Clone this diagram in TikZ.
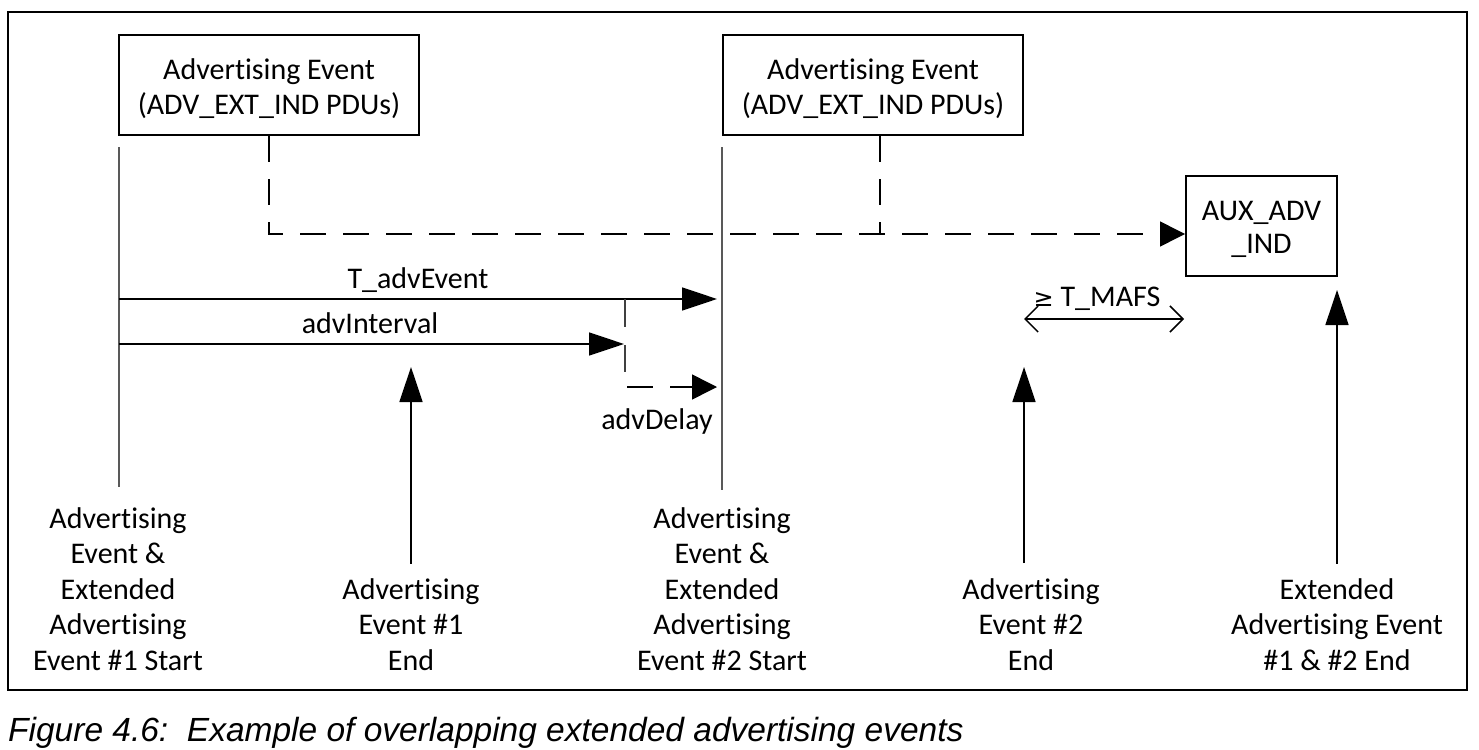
\documentclass[tikz,border=0pt]{standalone}
\usepackage{fontspec}
\usepackage{graphicx}
\setmainfont{Carlito}[RawFeature=-liga]
\newfontfamily\capfont{Liberation Sans}
\newfontfamily\symfont{DejaVu Sans}
\usetikzlibrary{arrows.meta}
\begin{document}
\begin{tikzpicture}[x=1pt,y=-1pt,
  txt/.style={font=\fontsize{30}{35.5}\selectfont, align=center, inner sep=0pt},
  evbox/.style={draw, line width=2pt, minimum width=300pt, minimum height=100pt, inner sep=0pt, align=center, font=\fontsize{30}{35}\selectfont},
  vline/.style={draw=black!65, line width=2pt},
  solidarrow/.style={line width=1.5pt, -{Triangle[length=35pt,width=23pt]}},
  dasharrow/.style={line width=1.5pt, dash pattern=on 26pt off 17pt, -{Triangle[length=25pt,width=25pt]}},
  dsh/.style={line width=1.5pt, dash pattern=on 26pt off 17pt},
  tick/.style={draw=black!75, line width=1.5pt},
  barbs/.style={line width=1.5pt, {Straight Barb[length=13pt,width=26pt]}-{Straight Barb[length=13pt,width=26pt]}}
]
\useasboundingbox (0,0) rectangle (1479,749);
% frame
\draw[line width=2pt] (8,12) rectangle (1467,690);
% boxes
\node[evbox] (b1) at (269,85) {\rule{0pt}{28pt}Advertising Event\\(ADV\_EXT\_IND PDUs)};
\node[evbox] (b2) at (873,85) {\rule{0pt}{28pt}Advertising Event\\(ADV\_EXT\_IND PDUs)};
\node[evbox, minimum width=151pt, font=\fontsize{30}{33}\selectfont] (aux) at (1261.5,226) {\rule{0pt}{27pt}AUX\_ADV\\\_IND};
% bottom labels
\node[txt, anchor=base] (l1) at (118,670) {Advertising\\Event \&\\Extended\\Advertising\\Event \#1 Start};
\node[txt, anchor=base] (l2) at (411,670) {Advertising\\Event \#1\\End};
\node[txt, anchor=base] (l3) at (722,670) {Advertising\\Event \&\\Extended\\Advertising\\Event \#2 Start};
\node[txt, anchor=base] (l4) at (1031,670) {Advertising\\Event \#2\\End};
\node[txt, anchor=base] (l5) at (1337,670) {Extended\\Advertising Event\\\#1 \& \#2 End};
% vertical timelines
\coordinate (v1t) at (119,147);
\coordinate (v1b) at (119,487);
\coordinate (v2t) at (722,147);
\coordinate (v2b) at (722,490);
\draw[vline] (v1t) -- (v1b);
\draw[vline] (v2t) -- (v2b);
% dashed PDU links
\coordinate (dj) at (880,233);
\draw[dasharrow] (b1.south) |- ([yshift=-8pt]aux.west);
\draw[dsh] (b2.south -| dj) -- (dj);
% T_advEvent
\coordinate (te0) at (119,299);
\coordinate (te1) at (717,299);
\draw[solidarrow] (te0) -- (te1);
\node[txt, anchor=base] (tlab) at (418,288) {T\_advEvent};
% advInterval
\coordinate (ai0) at (119,344);
\coordinate (ai1) at (624,344);
\draw[solidarrow] (ai0) -- (ai1);
\node[txt, anchor=base] (ilab) at (370,333) {advInterval};
\coordinate (k1) at (625,299);
\coordinate (k2) at (625,327);
\coordinate (k3) at (625,345);
\coordinate (k4) at (625,372);
\draw[tick] (k1) -- (k2);
\draw[tick] (k3) -- (k4);
% advDelay
\coordinate (ad0) at (627,387);
\coordinate (ad1) at (717,387);
\draw[dasharrow] (ad0) -- (ad1);
\node[txt, anchor=base] (dlab) at (657,429) {advDelay};
% T_MAFS
\coordinate (m0) at (1024,319);
\coordinate (m1) at (1184,319);
\draw[barbs] (m0) -- (m1);
\node[txt, anchor=base] (mlab) at (1097,306) {{\symfont\fontsize{24}{30}\selectfont ≥} T\_MAFS};
% event end arrows
\coordinate (e1) at (411,367);
\coordinate (e2) at (1024,367);
\coordinate (e3) at (1337,290);
\draw[solidarrow] (l2.north) ++(0,-14) -- (e1);
\draw[solidarrow] (1024,563) -- (e2);
\draw[solidarrow] (l5.north -| e3) ++(0,-14) -- (e3);
% caption
\node[anchor=base west, inner sep=0pt] (cap) at (8,741) {\capfont\itshape\fontsize{33.5}{40}\selectfont Figure 4.6:\ \ Example of overlapping extended advertising events};
\end{tikzpicture}
\end{document}
